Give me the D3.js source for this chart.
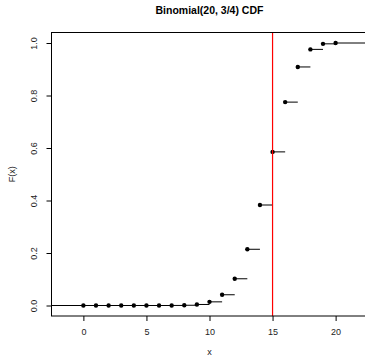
<!DOCTYPE html>
<html>
<head>
<meta charset="utf-8">
<script src="https://cdn.jsdelivr.net/npm/d3@7"></script>
<style>
  body { margin: 0; background: #fff; }
  svg { display: block; font-family: "Liberation Sans", Arial, sans-serif; }
</style>
</head>
<body>
<div class="vis-cdf"></div>
<script>
// Binomial(20, 3/4) cumulative probabilities
const xValues = [0, 1, 2, 3, 4, 5, 6, 7, 8, 9, 10, 11, 12, 13, 14, 15, 16, 17, 18, 19, 20];
const cdfValues = [0, 0, 0, 0, 0, 0, 0, 0.0002, 0.0009, 0.0039, 0.0139, 0.0409, 0.1018, 0.2142,
                   0.3828, 0.5852, 0.7748, 0.9087, 0.9757, 0.9968, 1.0];
const xTicks = [0, 5, 10, 15, 20];
const yTicks = [0, 0.2, 0.4, 0.6, 0.8, 1.0];
const markerX = 15;
const title = "Binomial(20, 3/4) CDF";

const width = 365, height = 359;
const plot = {left: 51.5, right: 367.5, top: 32.5, bottom: 316};

const svg = d3.select('.vis-cdf')
    .append('svg')
    .attr('width', width)
    .attr('height', height);

const xScale = d3.scaleLinear()
    .domain([-2.528, 22.528])
    .range([plot.left, plot.right]);
const yScale = d3.scaleLinear()
    .domain([-0.04, 1.04])
    .range([plot.bottom, plot.top]);

// clip to plot region like R does
svg.append("clipPath")
    .attr("id", "clip")
    .append("rect")
    .attr("x", plot.left)
    .attr("y", plot.top)
    .attr("width", plot.right - plot.left)
    .attr("height", plot.bottom - plot.top);

const g = svg.append("g").attr("clip-path", "url(#clip)");

// horizontal step segments
const steps = xValues.map(function(x, i){
    return {
        x0: x,
        x1: i < xValues.length - 1 ? xValues[i + 1] : xScale.domain()[1] + 1,
        y: cdfValues[i]
    };
});
steps.unshift({x0: xScale.domain()[0] - 1, x1: xValues[0], y: 0});

g.selectAll(".step")
    .data(steps)
    .enter()
    .append("line")
    .attr("class", "step")
    .attr("x1", function(d){ return xScale(d.x0); })
    .attr("x2", function(d){ return xScale(d.x1); })
    .attr("y1", function(d){ return yScale(d.y); })
    .attr("y2", function(d){ return yScale(d.y); })
    .attr("stroke", "#000")
    .attr("stroke-width", 1);

// points at the jumps
g.selectAll(".dot")
    .data(xValues)
    .enter()
    .append("circle")
    .attr("class", "dot")
    .attr("cx", function(d){ return xScale(d); })
    .attr("cy", function(d, i){ return yScale(cdfValues[i]); })
    .attr("r", 2.2)
    .attr("fill", "#000");

// red vertical line
g.append("line")
    .attr("x1", xScale(markerX))
    .attr("x2", xScale(markerX))
    .attr("y1", plot.top)
    .attr("y2", plot.bottom)
    .attr("stroke", "#ff0000")
    .attr("stroke-width", 1.2);

// box
svg.append("rect")
    .attr("x", plot.left)
    .attr("y", plot.top)
    .attr("width", plot.right - plot.left)
    .attr("height", plot.bottom - plot.top)
    .attr("fill", "none")
    .attr("stroke", "#000")
    .attr("stroke-width", 1);

// x axis
const xAxis = svg.append("g")
    .attr("transform", "translate(0," + plot.bottom + ")")
    .call(d3.axisBottom(xScale).tickValues(xTicks).tickSize(5).tickPadding(8));
xAxis.select(".domain").remove();
xAxis.selectAll("text")
    .style("font-size", "9px")
    .style("font-family", "Liberation Sans, Arial, sans-serif")
    .attr("fill", "#222");

// y axis
const yAxis = svg.append("g")
    .attr("transform", "translate(" + plot.left + ",0)")
    .call(d3.axisLeft(yScale).tickValues(yTicks).tickSize(5).tickFormat(d3.format(".1f")));
yAxis.select(".domain").remove();
yAxis.selectAll("text")
    .attr("x", null)
    .attr("dy", null)
    .attr("text-anchor", "middle")
    .attr("transform", "translate(-15,0) rotate(-90)")
    .style("font-size", "9px")
    .style("font-family", "Liberation Sans, Arial, sans-serif")
    .attr("fill", "#222");

// titles
const cx = (plot.left + plot.right) / 2;
svg.append("text")
    .attr("x", cx)
    .attr("y", 14)
    .attr("text-anchor", "middle")
    .style("font-size", "10.5px")
    .style("font-weight", "bold")
    .text(title);

svg.append("text")
    .attr("x", cx)
    .attr("y", 355)
    .attr("text-anchor", "middle")
    .style("font-size", "9px")
    .attr("fill", "#222")
    .text("x");

svg.append("text")
    .attr("transform", "translate(15," + (plot.top + plot.bottom) / 2 + ") rotate(-90)")
    .attr("text-anchor", "middle")
    .style("font-size", "9px")
    .attr("fill", "#222")
    .text("F(x)");
</script>
</body>
</html>
